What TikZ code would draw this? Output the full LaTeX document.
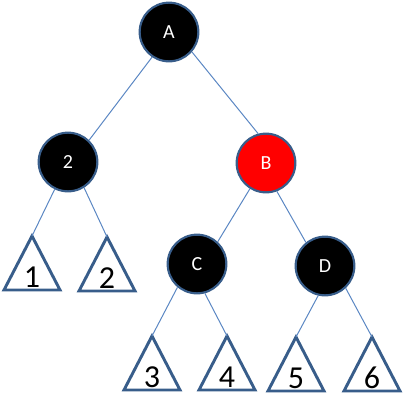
\documentclass[tikz,border=0pt]{standalone}
\usepackage{fontspec}
\setmainfont{Carlito}
\usepackage{tikz}
\definecolor{rim}{HTML}{385D8A}
\definecolor{link}{HTML}{5B87C3}

\begin{document}
\begin{tikzpicture}[x=0.75pt, y=-0.75pt, v/.style={draw=rim, circle, fill=black, line width=1.6pt, minimum size=44pt, inner sep=0pt, text=white, font=\fontsize{15}{18}\selectfont}, tri/.style={draw=rim, line width=2.2pt, line join=miter}, num/.style={anchor=base, inner sep=0pt, font=\fontsize{24}{28}\selectfont}]
	\useasboundingbox (0,0) rectangle (404,418);
	\node[v] (vA) at (169,32) {A};
	\node[v] (v2) at (68,162) {2};
	\node[v, fill=red] (vB) at (266,163) {B};
	\node[v] (vC) at (197,264) {C};
	\node[v] (vD) at (325,266) {D};
	\foreach \n/\x/\y in {1/32/236, 2/107/237, 3/152/336, 4/227/336, 5/296/337, 6/372/337} {
		\draw[tri] (\x,\y) coordinate (t\n) -- ++(-28,54) -- ++(56,0) -- cycle;
		\node[num] (l\n) at (\x,\y+51) {\n};
	}
	\foreach \a/\b in {vA.236/v2.46, vA.-41/vB.105, vB.238/vC.47, vB.291/vD.129, v2.244/t1, v2.302/t2, vC.230/t3, vC.285/t4, vD.257/t5, vD.-47/t6} {\draw[link, line width=0.75pt] (\a) -- (\b);}
\end{tikzpicture}
\end{document}
